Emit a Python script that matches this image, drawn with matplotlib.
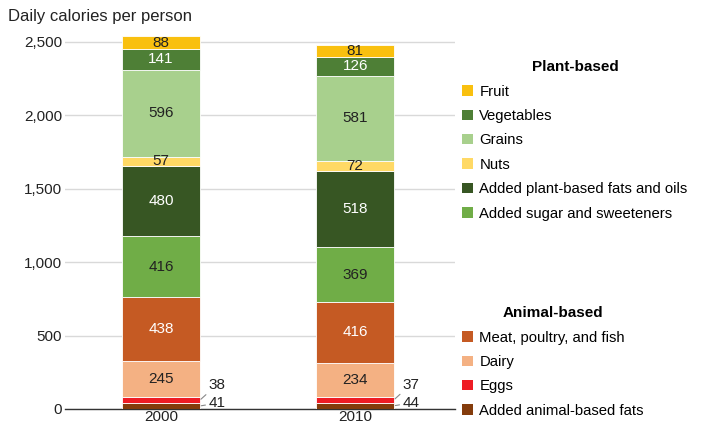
import numpy as np
import matplotlib.pyplot as plt
from matplotlib.patches import Patch
from matplotlib.ticker import FuncFormatter

plt.rcParams['font.family'] = ['Liberation Sans', 'DejaVu Sans']

# 데이터 (아래 -> 위 순서)
years = ["2000", "2010"]
categories = ["Added animal-based fats", "Eggs", "Dairy", "Meat, poultry, and fish",
              "Added sugar and sweeteners", "Added plant-based fats and oils", "Nuts",
              "Grains", "Vegetables", "Fruit"]
values_2000 = [41, 38, 245, 438, 416, 480, 57, 596, 141, 88]
values_2010 = [44, 37, 234, 416, 369, 518, 72, 581, 126, 81]
colors = ["#843C0C", "#EE1C24", "#F4B183", "#C55A23",
          "#70AD47", "#375623", "#FFD965", "#A8D08D", "#4E7F36", "#F9C00F"]
label_white = [False, False, False, True, False, True, False, False, True, False]

plant_items = ["Fruit", "Vegetables", "Grains", "Nuts",
               "Added plant-based fats and oils", "Added sugar and sweeteners"]
animal_items = ["Meat, poultry, and fish", "Dairy", "Eggs", "Added animal-based fats"]

fig = plt.figure(figsize=(7.1, 4.24), dpi=100)
ax = fig.add_axes([0.0915, 0.0354, 0.5495, 0.883])

x = np.arange(len(years))
width = 0.4
data = np.array([values_2000, values_2010]).T
bottom = np.zeros(len(years))
for i, cat in enumerate(categories):
    ax.bar(x, data[i], width, bottom=bottom, color=colors[i], edgecolor='white',
           linewidth=0.6, zorder=3)
    for j in range(len(years)):
        v = data[i][j]
        mid = bottom[j] + v / 2
        if i < 2:
            # 작은 구간은 바깥에 라벨 + 리더선
            off = (6, 11) if i == 1 else (6, 2)
            ax.annotate(str(v), xy=(x[j] + width / 2, mid), xytext=off,
                        textcoords='offset points', ha='left', va='center',
                        fontsize=11, color='#222222',
                        arrowprops=dict(arrowstyle='-', color='#888888', lw=0.8,
                                        shrinkA=0, shrinkB=1))
        else:
            ax.text(x[j], mid, str(v), ha='center', va='center', fontsize=11,
                    color='white' if label_white[i] else '#222222', zorder=4)
    bottom += data[i]

ax.set_xlim(-0.495, 1.515)
ax.set_ylim(0, 2550)
ax.set_yticks(np.arange(0, 2501, 500))
ax.yaxis.set_major_formatter(FuncFormatter(lambda v, p: f"{int(v):,}"))
ax.set_xticks(x)
ax.set_xticklabels(years)
ax.tick_params(axis='both', length=0, labelsize=11, labelcolor='#222222')
ax.tick_params(axis='x', pad=0.5)
ax.tick_params(axis='y', pad=2)
ax.grid(axis='y', color='#d9d9d9', linewidth=1, zorder=0)
for s in ['top', 'right', 'left']:
    ax.spines[s].set_visible(False)
ax.spines['bottom'].set_color('#333333')
ax.spines['bottom'].set_linewidth(1)
ax.set_axisbelow(True)

fig.text(0.011, 0.962, "Daily calories per person", fontsize=12, color='#222222',
         ha='left', va='center')

cmap = dict(zip(categories, colors))

def make_legend(items, title, y):
    handles = [Patch(facecolor=cmap[c], edgecolor='none') for c in items]
    leg = fig.legend(handles, items, title=title, loc='upper left',
                     bbox_to_anchor=(0.651, y), frameon=False, fontsize=10.7,
                     handlelength=0.7, handleheight=0.7, handletextpad=0.45,
                     labelspacing=0.7, borderaxespad=0, borderpad=0)
    leg.get_title().set_fontweight('bold')
    leg.get_title().set_fontsize(11)
    return leg

make_legend(plant_items, "Plant-based", 0.858)
make_legend(animal_items, "Animal-based", 0.278)

fig.savefig("out.png", dpi=100)
